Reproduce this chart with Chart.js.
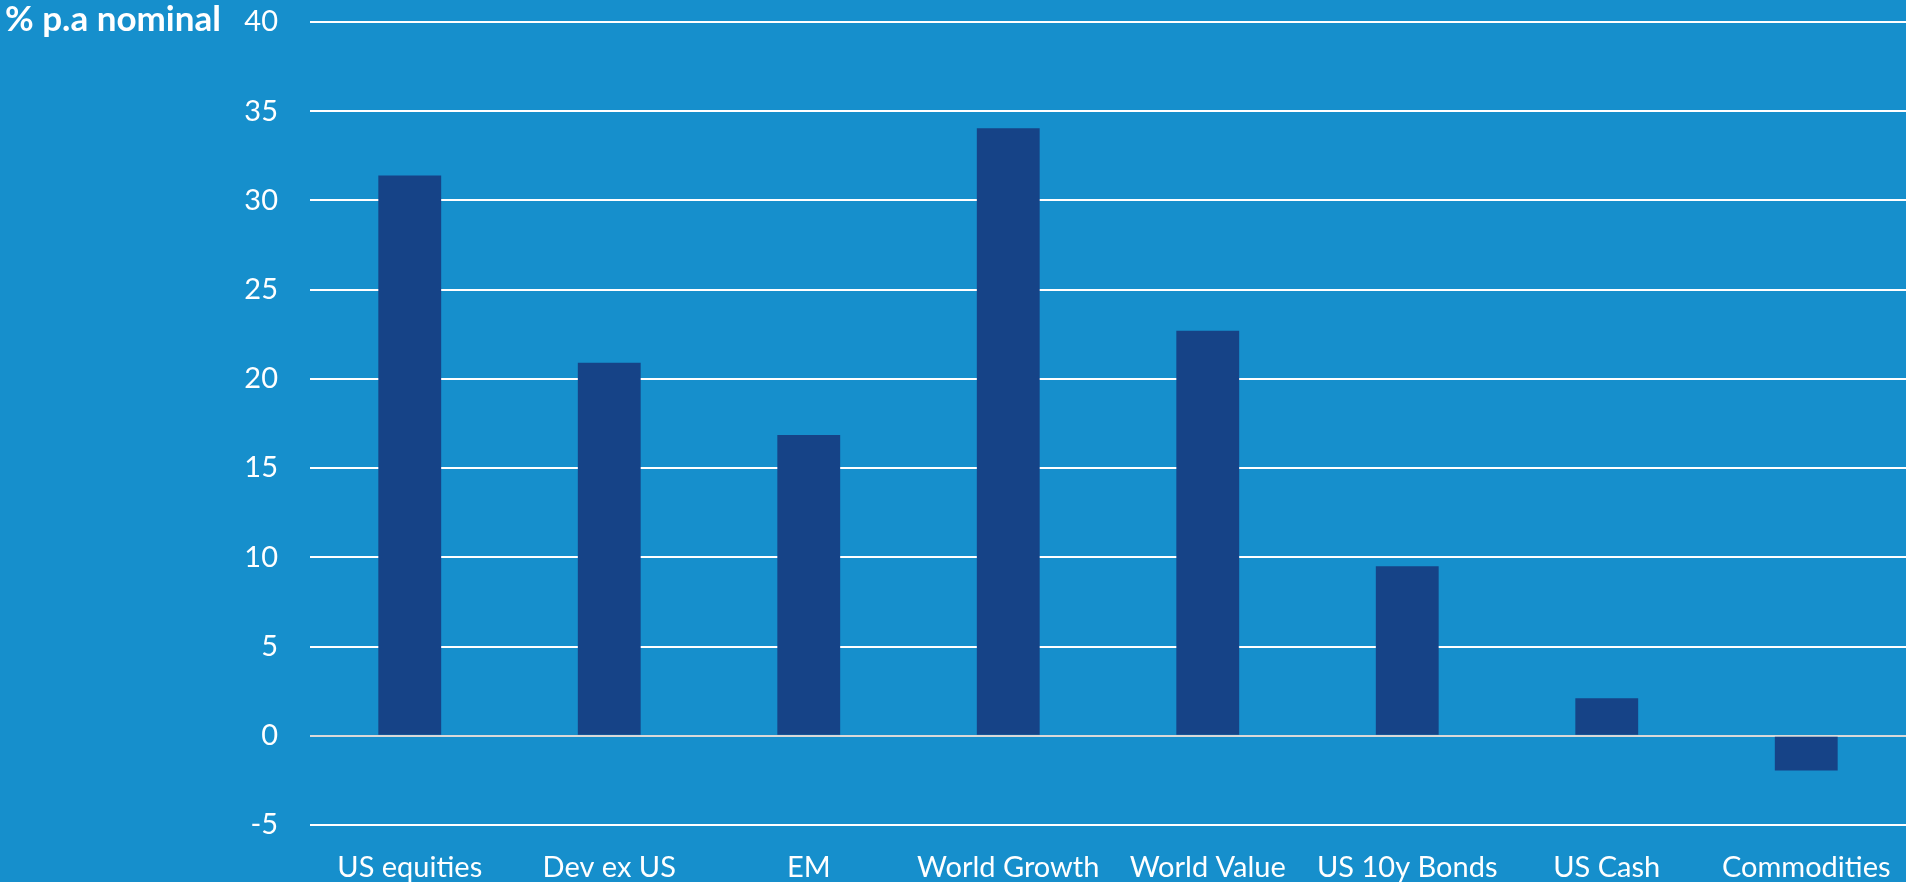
<!DOCTYPE html>
<html>
<head>
<meta charset="utf-8">
<script src="https://cdn.jsdelivr.net/npm/chart.js@4"></script>
<style>
  html, body { margin: 0; padding: 0; background: #168fcc; }
  #wrap { width: 1906px; height: 882px; position: relative; }
</style>
</head>
<body>
<div id="wrap"><canvas id="returnsChart"></canvas></div>
<script>
const categories = ["US equities", "Dev ex US", "EM", "World Growth", "World Value", "US 10y Bonds", "US Cash", "Commodities"];
const returns = [31.4, 20.9, 16.85, 34.05, 22.7, 9.5, 2.1, -1.95];
const yTicks = [-5, 0, 5, 10, 15, 20, 25, 30, 35, 40];
const axisTitle = "% p.a nominal";

const FONT = "Lato";

// unit label sits top-left, level with the 40 line
const titlePlugin = {
  id: "cornerTitle",
  afterDraw(chart) {
    const c = chart.ctx;
    c.save();
    c.font = "bold 35px " + FONT;
    c.fillStyle = "#ffffff";
    c.textBaseline = "middle";
    c.textAlign = "left";
    c.fillText(axisTitle, 5, chart.scales.y.getPixelForValue(40) - 2);
    c.restore();
  }
};

new Chart(document.getElementById("returnsChart"), {
  type: "bar",
  data: {
    labels: categories,
    datasets: [{
      data: returns,
      backgroundColor: "#164387",
      barPercentage: 0.315,
      categoryPercentage: 1
    }]
  },
  options: {
    responsive: true,
    maintainAspectRatio: false,
    animation: false,
    layout: { padding: { top: 22, right: 0, left: 0, bottom: 0 } },
    plugins: { legend: { display: false }, tooltip: { enabled: false } },
    scales: {
      x: {
        afterFit(axis) { axis.height = 57; axis.paddingLeft = 0; axis.paddingRight = 0; },
        grid: { display: false },
        border: { display: false },
        ticks: { color: "#ffffff", font: { family: FONT, size: 29 }, padding: 17, maxRotation: 0 }
      },
      y: {
        min: -5,
        max: 40,
        afterFit(axis) { axis.width = 310; axis.paddingTop = 0; axis.paddingBottom = 0; },
        afterBuildTicks(axis) { axis.ticks = yTicks.map(v => ({ value: v })); },
        border: { display: false },
        grid: {
          drawTicks: false,
          lineWidth: 2,
          color: ctx => ctx.tick && ctx.tick.value === 0 ? "#d9d9d9" : "#ffffff"
        },
        ticks: { color: "#ffffff", font: { family: FONT, size: 29 }, padding: 32 }
      }
    }
  },
  plugins: [titlePlugin]
});
</script>
</body>
</html>
